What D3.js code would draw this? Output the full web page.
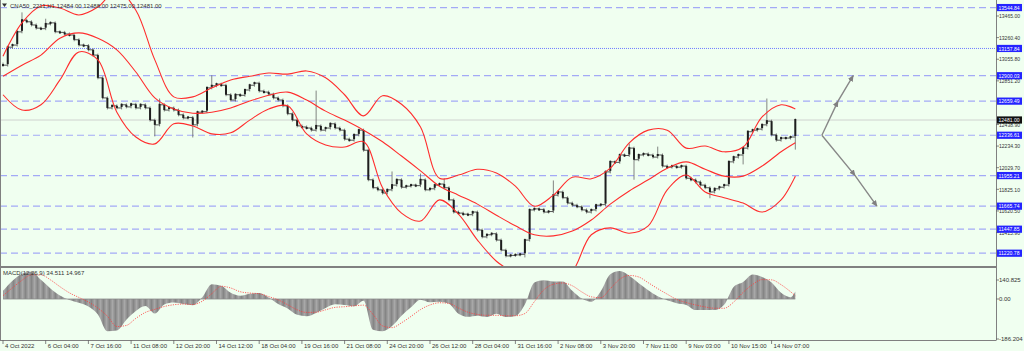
<!DOCTYPE html>
<html>
<head>
<meta charset="utf-8">
<script src="https://cdn.jsdelivr.net/npm/d3@7/dist/d3.min.js"></script>
<style>
  body{ margin:0; background:#f0fff0; }
  svg text{ font-family:"Liberation Sans", Arial, sans-serif; font-size:6px; fill:#333; }
</style>
</head>
<body>
<svg id="chart" width="1024" height="351"></svg>
<script>
// H1 closes, one candle every 4 hours of the chart
var closes = [
  13000,13170,13190,13315,13425,13410,13380,13350,13345,13390,
  13400,13315,13310,13295,13285,13240,13190,13185,13145,13095,
  12880,12690,12595,12615,12595,12625,12605,12630,12595,12625,
  12595,12480,12435,12625,12575,12595,12575,12530,12500,12505,
  12435,12555,12560,12785,12805,12820,12810,12720,12670,12720,
  12715,12765,12810,12830,12755,12745,12725,12690,12670,12615,
  12540,12480,12425,12415,12405,12385,12425,12385,12405,12445,
  12405,12385,12300,12290,12340,12385,12195,11915,11840,11820,
  11790,11820,11865,11915,11845,11855,11865,11860,11915,11820,
  11830,11865,11875,11840,11725,11610,11600,11590,11585,11610,
  11440,11375,11395,11405,11345,11250,11195,11200,11205,11210,
  11345,11630,11640,11635,11610,11615,11770,11800,11745,11695,
  11675,11660,11630,11610,11630,11675,11680,11990,12085,12080,
  12150,12145,12215,12105,12150,12160,12150,12130,12150,12045,
  12035,12045,12035,12045,11930,11915,11895,11865,11840,11800,
  11830,11845,11865,12085,12130,12150,12215,12370,12385,12395,
  12435,12470,12340,12290,12310,12310,12320,12481
];
var firstOpen = 13010;
// long shadows worth drawing
var wickBar   = [4, 9, 32, 33, 40, 44, 66, 82, 88, 93, 110, 116, 132, 133, 138, 149, 156, 161, 167];
var wickPrice = [13485,13425,12340,12670,12330,12890,12745,11980,11960,11915,11195,11895,12245,11930,12215,11755,12075,12670,12215];

var levelPrices = [13544.84, 12900.03, 12659.49, 12336.61, 11955.21, 11665.74, 11447.85, 11220.78];
var dottedLevel = 13157.84;
var lastPrice = 12481.00;
var priceTicks = [13465.00, 13260.40, 13055.80, 12851.20, 12438.90, 12234.30, 12029.70, 11825.10, 11620.50, 11415.90];

var timeLabels = ["4 Oct 2022","6 Oct 04:00","7 Oct 16:00","11 Oct 08:00","12 Oct 20:00","14 Oct 12:00",
  "18 Oct 04:00","19 Oct 16:00","21 Oct 08:00","24 Oct 20:00","26 Oct 12:00","28 Oct 04:00",
  "31 Oct 16:00","2 Nov 08:00","3 Nov 20:00","7 Nov 11:00","9 Nov 03:00","10 Nov 15:00","14 Nov 07:00"];
var timeLabelStep = 9;

// bollinger bands, read every 4 candles
var bandStep = 4;
var bandUpper = [13085,13400,13560,13540,13475,13550,13710,13520,13050,12700,
  12700,12785,12860,12895,12925,12915,12945,12880,12720,12520,
  12710,12630,12415,11930,11960,12015,11980,11855,11665,11770,
  11940,11925,12025,12265,12385,12385,12215,12235,12180,12225,
  12510,12625,12585];
var bandMiddle = [12895,13000,13095,13255,13305,13255,13145,12935,12690,12585,
  12545,12555,12595,12660,12715,12745,12670,12565,12480,12385,
  12275,12140,12000,11855,11770,11685,11580,11480,11395,11385,
  11430,11535,11685,11810,11915,12025,12085,12015,11950,11950,
  12045,12180,12265];
var bandLower = [12720,12575,12625,12860,13125,13050,12555,12320,12255,12445,
  12425,12350,12360,12480,12585,12615,12350,12245,12225,12275,
  11840,11600,11525,11725,11590,11345,11145,11025,10910,10910,
  11045,11395,11460,11410,11480,11820,11960,11800,11745,11695,
  11610,11725,11950];

// MACD(12,26,9), read every 2 candles
var macdStep = 2;
var macdMain = [37,83,115,124,87,48,16,-4,-17,-34,
  -70,-146,-143,-94,-54,-32,-66,-25,-16,-23,
  -28,8,67,60,28,15,24,27,7,-23,
  -43,-72,-78,-63,-41,-24,-27,-33,-8,-140,
  -147,-123,-76,-37,-3,-15,-12,-22,-67,-81,
  -76,-82,-67,-82,-77,-25,75,85,80,80,
  37,2,-13,35,112,127,106,72,40,13,
  -6,-19,-27,-50,-50,-50,-26,55,77,111,
  100,75,28,8,34.511];
var macdSignal = [15,51,85,110,110,87,56,28,7,-14,
  -41,-78,-125,-120,-88,-61,-47,-34,-26,-23,
  -25,-10,24,58,50,33,27,24,11,-4,
  -26,-49,-61,-60,-49,-38,-35,-31,-28,-70,
  -122,-130,-108,-79,-48,-27,-17,-20,-41,-60,
  -70,-74,-74,-76,-76,-66,-12,42,67,73,
  60,32,10,6,47,90,107,100,74,47,
  22,-2,-16,-27,-36,-42,-42,-14,30,66,
  88,87,65,33,14.967];
var macdMax = 140.825, macdMin = -186.204;

// projection arrows drawn right of the last candle: [bar, price]
var arrowUp   = [[172.6, 12336.61], [176.0, 12659.49], [179.2, 12900.03]];
var arrowDown = [[172.6, 12336.61], [179.6, 11955.21], [184.2, 11665.74]];

var lastBar = closes.length - 1;
function sampleBar(i, step){ return Math.min(i*step, lastBar); }

var svg = d3.select("#chart");
var W = 1024, right = 996, mainTop = 0, mainBottom = 266, macdTop = 268, macdBottom = 340;

var x = d3.scaleLinear().domain([0, 209.3]).range([3, right]);
var y = d3.scaleLinear().domain([11220.78, 13544.84]).range([253.2, 7.56]);
var yM = d3.scaleLinear().domain([macdMin, macdMax]).range([macdBottom, macdTop]);

var defs = svg.append("defs");
defs.append("clipPath").attr("id", "clipMain").append("rect")
  .attr("x", 1).attr("y", mainTop).attr("width", right-1).attr("height", mainBottom-mainTop);
defs.append("clipPath").attr("id", "clipMacd").append("rect")
  .attr("x", 1).attr("y", macdTop).attr("width", right-1).attr("height", macdBottom-macdTop);
var pat = defs.append("pattern").attr("id", "stripes").attr("patternUnits", "userSpaceOnUse")
  .attr("width", 1.2).attr("height", 4);
pat.append("rect").attr("width", 1.2).attr("height", 4).attr("fill", "#a8a8a8");
pat.append("rect").attr("width", 0.6).attr("height", 4).attr("fill", "#858585");
var mk = function(id, col){
  defs.append("marker").attr("id", id).attr("viewBox", "0 0 10 10").attr("refX", 8).attr("refY", 5)
    .attr("markerWidth", 5).attr("markerHeight", 5).attr("orient", "auto")
    .append("path").attr("d", "M0,1 L9,5 L0,9 z").attr("fill", col);
};
mk("arrowHead", "#808080");

svg.append("rect").attr("width", W).attr("height", 351).attr("fill", "#f0fff0");

// ---------- main window ----------
var main = svg.append("g").attr("clip-path", "url(#clipMain)");

main.selectAll("line.level").data(levelPrices).enter().append("line").attr("class", "level")
  .attr("x1", 0).attr("x2", right).attr("y1", function(d){return y(d);}).attr("y2", function(d){return y(d);})
  .attr("stroke", "#a3aaf6").attr("stroke-width", 1.2).attr("stroke-dasharray", "7,4");
main.append("line").attr("x1", 0).attr("x2", right).attr("y1", y(dottedLevel)).attr("y2", y(dottedLevel))
  .attr("stroke", "#6f7cff").attr("stroke-width", 1).attr("stroke-dasharray", "1,1");
main.append("line").attr("x1", 0).attr("x2", right).attr("y1", y(lastPrice)).attr("y2", y(lastPrice))
  .attr("stroke", "#c6c6c6").attr("stroke-width", 0.8);

// candles
var candles = closes.map(function(c, i){
  var o = i === 0 ? firstOpen : closes[i-1];
  var hi = Math.max(o, c), lo = Math.min(o, c);
  var w = wickBar.indexOf(i);
  if (w >= 0){ hi = Math.max(hi, wickPrice[w]); lo = Math.min(lo, wickPrice[w]); }
  return {i:i, o:o, c:c, h:hi, l:lo};
});
var cg = main.append("g");
cg.selectAll("line.wick").data(candles).enter().append("line").attr("class", "wick")
  .attr("x1", function(d){return x(d.i);}).attr("x2", function(d){return x(d.i);})
  .attr("y1", function(d){return y(d.h) - 1.5;}).attr("y2", function(d){return y(d.l) + 1.5;})
  .attr("stroke", "#666").attr("stroke-width", 0.8);
// joins between neighbouring candles, as the dense H1 bars read like a line
cg.selectAll("line.join").data(candles.slice(1)).enter().append("line").attr("class", "join")
  .attr("x1", function(d){return x(d.i - 1);}).attr("x2", function(d){return x(d.i);})
  .attr("y1", function(d){return y(d.o);}).attr("y2", function(d){return y(d.o);})
  .attr("stroke", "#444").attr("stroke-width", 0.9);
cg.selectAll("rect.body").data(candles).enter().append("rect").attr("class", "body")
  .attr("x", function(d){return x(d.i) - 1;}).attr("width", 2)
  .attr("y", function(d){return Math.min(y(Math.max(d.o, d.c)), y(d.c) - 1);})
  .attr("height", function(d){return Math.max(2, Math.abs(y(d.o) - y(d.c)));})
  .attr("fill", "#1e1e1e");

// bollinger bands
var bandLine = d3.line().x(function(d, i){return x(sampleBar(i, bandStep));}).y(function(d){return y(d);})
  .curve(d3.curveCatmullRom);
[bandUpper, bandMiddle, bandLower].forEach(function(b){
  main.append("path").datum(b).attr("d", bandLine).attr("fill", "none")
    .attr("stroke", "#ff2d2d").attr("stroke-width", 1.1);
});

// arrows
[arrowUp, arrowDown].forEach(function(a){
  main.append("path").datum(a)
    .attr("d", d3.line().x(function(d){return x(d[0]);}).y(function(d){return y(d[1]);}))
    .attr("fill", "none").attr("stroke", "#888").attr("stroke-width", 1.4)
    .attr("marker-mid", "url(#arrowHead)").attr("marker-end", "url(#arrowHead)");
});

// title
svg.append("path").attr("d", "M2,3.5 L7,3.5 L4.5,7 z").attr("fill", "#333");
svg.append("text").attr("x", 10).attr("y", 7.5).text("CNA50_2211,H1  12484.00 12488.00 12475.00 12481.00");

// ---------- MACD window ----------
var mg = svg.append("g").attr("clip-path", "url(#clipMacd)");
var hist = d3.area().x(function(d, i){return x(sampleBar(i, macdStep));})
  .y0(yM(0)).y1(function(d){return yM(d);}).curve(d3.curveMonotoneX);
mg.append("path").datum(macdMain).attr("d", hist).attr("fill", "url(#stripes)");
mg.append("line").attr("x1", x(0)).attr("x2", x(lastBar)).attr("y1", yM(0)).attr("y2", yM(0))
  .attr("stroke", "#8a8a8a").attr("stroke-width", 0.8);
mg.append("path").datum(macdSignal)
  .attr("d", d3.line().x(function(d, i){return x(sampleBar(i, macdStep));}).y(function(d){return yM(d);}).curve(d3.curveMonotoneX))
  .attr("fill", "none").attr("stroke", "#ff3b3b").attr("stroke-width", 0.8).attr("stroke-dasharray", "1.2,1.2");
svg.append("text").attr("x", 3).attr("y", 274.5)
  .text("MACD(12,26,9) " + macdMain[macdMain.length-1].toFixed(3) + " " + macdSignal[macdSignal.length-1].toFixed(3));

// ---------- frames ----------
var frame = svg.append("g").attr("stroke", "#808080").attr("stroke-width", 1).attr("fill", "none");
frame.append("line").attr("x1", 0.5).attr("x2", 0.5).attr("y1", 0).attr("y2", macdBottom);
frame.append("line").attr("x1", right+0.5).attr("x2", right+0.5).attr("y1", 0).attr("y2", macdBottom);
frame.append("line").attr("x1", 0).attr("x2", right+0.5).attr("y1", mainBottom+0.5).attr("y2", mainBottom+0.5);
frame.append("line").attr("x1", 0).attr("x2", right+0.5).attr("y1", macdTop-0.5).attr("y2", macdTop-0.5);
frame.append("line").attr("x1", 0).attr("x2", right+0.5).attr("y1", macdBottom+0.5).attr("y2", macdBottom+0.5);

// ---------- right price scale ----------
var ax = svg.append("g");
ax.selectAll("line.tk").data(priceTicks).enter().append("line").attr("class", "tk")
  .attr("x1", right).attr("x2", right+3).attr("y1", function(d){return y(d);}).attr("y2", function(d){return y(d);})
  .attr("stroke", "#666").attr("stroke-width", 0.8);
ax.selectAll("text.tk").data(priceTicks).enter().append("text").attr("class", "tk")
  .attr("x", right+3).attr("y", function(d){return y(d) + 2.2;})
  .attr("textLength", 21).attr("lengthAdjust", "spacingAndGlyphs").text(function(d){return d.toFixed(2);});

var boxes = levelPrices.concat([dottedLevel]).map(function(p){return {p:p, col:"#2424ff"};});
boxes.push({p:lastPrice, col:"#111"});
var bx = ax.selectAll("g.box").data(boxes).enter().append("g").attr("class", "box");
bx.append("rect").attr("x", right+1).attr("width", 25).attr("y", function(d){return y(d.p) - 3.6;}).attr("height", 7.2)
  .attr("fill", function(d){return d.col;});
bx.append("text").attr("x", right+2.5).attr("y", function(d){return y(d.p) + 2.2;})
  .attr("textLength", 21).attr("lengthAdjust", "spacingAndGlyphs")
  .style("fill", "#fff").text(function(d){return d.p.toFixed(2);});

// MACD scale
var macdLabels = [{v:macdMax, t:"140.825", dy:12}, {v:0, t:"0.00", dy:0}, {v:macdMin, t:"-186.204", dy:-1}];
ax.selectAll("text.ml").data(macdLabels).enter().append("text").attr("class", "ml")
  .attr("x", right+3).attr("y", function(d){return yM(d.v) + d.dy + 2.2;}).text(function(d){return d.t;});
ax.selectAll("line.ml").data(macdLabels).enter().append("line").attr("class", "ml")
  .attr("x1", right).attr("x2", right+3).attr("y1", function(d){return yM(d.v) + d.dy;}).attr("y2", function(d){return yM(d.v) + d.dy;})
  .attr("stroke", "#666").attr("stroke-width", 0.8);

// ---------- time axis ----------
var tx = svg.append("g");
tx.selectAll("line").data(timeLabels).enter().append("line")
  .attr("x1", function(d, i){return x(i*timeLabelStep);}).attr("x2", function(d, i){return x(i*timeLabelStep);})
  .attr("y1", macdBottom).attr("y2", macdBottom+4).attr("stroke", "#666").attr("stroke-width", 0.8);
tx.selectAll("text").data(timeLabels).enter().append("text")
  .attr("x", function(d, i){return x(i*timeLabelStep) + 2;}).attr("y", 348).text(function(d){return d;});
</script>
</body>
</html>
